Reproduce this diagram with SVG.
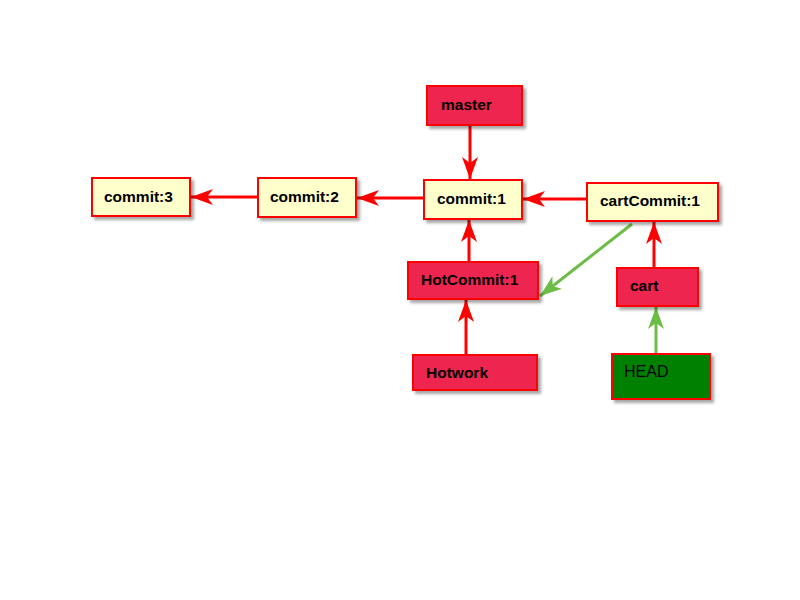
<svg xmlns="http://www.w3.org/2000/svg" width="800" height="600" viewBox="0 0 800 600">
  <style>
    .box { stroke: #ff0000; stroke-width: 2; filter: url(#shadow); }
    .commit { fill: #ffffcc; }
    .branch { fill: #ee2850; }
    .head { fill: #008000; }
    .label { font-family: "Liberation Sans", Arial, sans-serif; font-size: 15.5px; font-weight: bold; fill: #000; }
    .plain { font-weight: normal; font-size: 16px; }
    .edge { stroke: #ff0000; stroke-width: 3; fill: none; marker-end: url(#redArrow); }
    .edge-green { stroke: #6cbd45; stroke-width: 3; fill: none; marker-end: url(#greenArrow); }
  </style>
  <defs>
    <filter id="shadow" x="-10%" y="-10%" width="130%" height="140%">
      <feGaussianBlur in="SourceAlpha" stdDeviation="1.5"/>
      <feOffset dx="3" dy="3" result="off"/>
      <feComponentTransfer><feFuncA type="linear" slope="0.35"/></feComponentTransfer>
      <feMerge><feMergeNode/><feMergeNode in="SourceGraphic"/></feMerge>
    </filter>
    <marker id="redArrow" viewBox="0 0 22 16" refX="22" refY="8" markerWidth="22" markerHeight="16" markerUnits="userSpaceOnUse" orient="auto">
      <path d="M0,0 L22,8 L0,16 L6,8 Z" fill="#ff0000"/>
    </marker>
    <marker id="greenArrow" viewBox="0 0 22 16" refX="22" refY="8" markerWidth="22" markerHeight="16" markerUnits="userSpaceOnUse" orient="auto">
      <path d="M0,0 L22,8 L0,16 L6,8 Z" fill="#6cbd45"/>
    </marker>
  </defs>

  <g id="connectors">
    <line class="edge" x1="257" y1="197" x2="191" y2="197"/>
    <line class="edge" x1="423" y1="198" x2="357" y2="198"/>
    <line class="edge" x1="587" y1="199" x2="523" y2="199"/>
    <line class="edge" x1="470" y1="125" x2="470" y2="179"/>
    <line class="edge" x1="469" y1="262" x2="469" y2="220"/>
    <line class="edge" x1="466" y1="355" x2="466" y2="300"/>
    <line class="edge" x1="654" y1="268" x2="654" y2="222"/>
    <line class="edge-green" x1="656" y1="353" x2="656" y2="307"/>
    <line class="edge-green" x1="632" y1="224" x2="540" y2="296"/>
  </g>

  <g id="commit3">
    <rect class="box commit" x="92" y="178" width="98" height="38"/>
    <text class="label" x="104" y="202">commit:3</text>
  </g>
  <g id="commit2">
    <rect class="box commit" x="258" y="178" width="98" height="39"/>
    <text class="label" x="270" y="202">commit:2</text>
  </g>
  <g id="commit1">
    <rect class="box commit" x="424" y="180" width="98" height="39"/>
    <text class="label" x="437" y="204">commit:1</text>
  </g>
  <g id="master">
    <rect class="box branch" x="427" y="86" width="95" height="39"/>
    <text class="label" x="441" y="110">master</text>
  </g>
  <g id="cartCommit1">
    <rect class="box commit" x="587" y="183" width="131" height="38"/>
    <text class="label" x="600" y="206">cartCommit:1</text>
  </g>
  <g id="cart">
    <rect class="box branch" x="617" y="268" width="81" height="38"/>
    <text class="label" x="630" y="291">cart</text>
  </g>
  <g id="HotCommit1">
    <rect class="box branch" x="408" y="262" width="130" height="37"/>
    <text class="label" x="421" y="285">HotCommit:1</text>
  </g>
  <g id="Hotwork">
    <rect class="box branch" x="413" y="355" width="124" height="35"/>
    <text class="label" x="426" y="378">Hotwork</text>
  </g>
  <g id="HEAD">
    <rect class="box head" x="612" y="354" width="98" height="45"/>
    <text class="label plain" x="624" y="377">HEAD</text>
  </g>
</svg>
